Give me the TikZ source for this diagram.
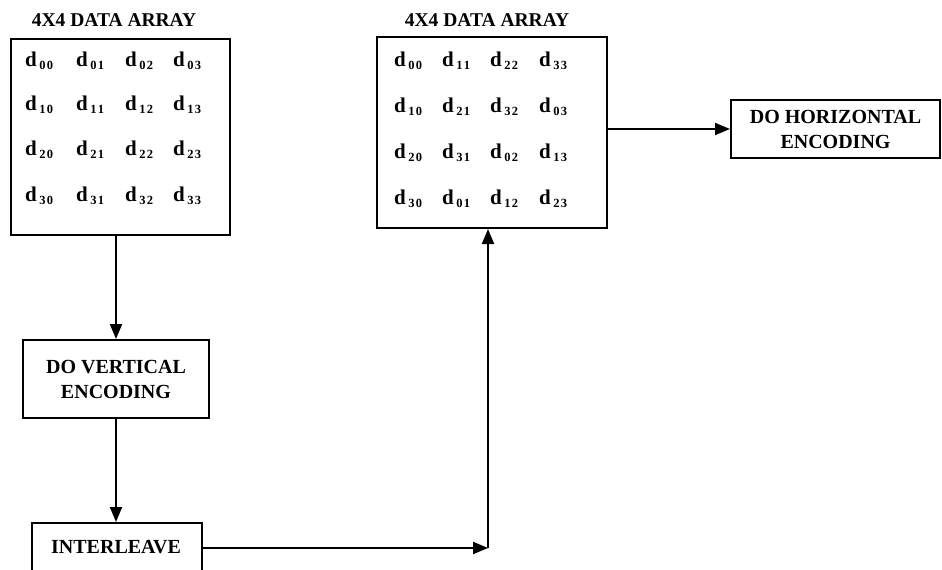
\documentclass[tikz,border=0pt]{standalone}
\usepackage{fontspec}
\setmainfont{Liberation Serif}
\usetikzlibrary{arrows.meta}
\newcommand{\ddent}[2]{d\kern2.5pt\raisebox{-3pt}{\fontsize{12.5}{12}\selectfont #1\kern1.2pt#2}}
\begin{document}
\begin{tikzpicture}[x=1pt,y=-1pt,
  box/.style={draw,line width=2pt,inner sep=0pt,align=center,font=\fontsize{20}{25}\selectfont\bfseries},
  ttl/.style={inner sep=0pt,font=\fontsize{19.5}{22}\selectfont\bfseries},
  ent/.style={inner sep=0pt,anchor=west,font=\fontsize{21}{22}\selectfont\bfseries},
  arr/.style={line width=2pt,-{Triangle[length=15pt,width=12pt]}},
  ln/.style={line width=2pt}]
\useasboundingbox (0,0) rectangle (942,570);
\clip (0,0) rectangle (942,570);
% titles
\node[ttl] (t1) at (114,20) {4X4 DATA ARRAY};
\node[ttl] (t2) at (487,20) {4X4 DATA ARRAY};
% boxes
\node[box,minimum width=219pt,minimum height=196pt] (arr1) at (120.5,137) {};
\node[box,minimum width=230pt,minimum height=191pt] (arr2) at (492,132.5) {};
\node[box,minimum width=209pt,minimum height=58pt] (horz) at (835.5,129) {DO HORIZONTAL\\ENCODING};
\node[box,minimum width=186pt,minimum height=78pt] (vert) at (116,379) {DO VERTICAL\\ENCODING};
\node[box,minimum width=170pt,minimum height=54pt] (inter) at (117,550) {};
\node[inner sep=0pt,font=\fontsize{20}{25}\selectfont\bfseries] (intertxt) at (116,547) {INTERLEAVE};
% left array entries
\foreach \r/\y/\a/\b/\c/\d in {0/61/{0}{0}/{0}{1}/{0}{2}/{0}{3},
                              1/105/{1}{0}/{1}{1}/{1}{2}/{1}{3},
                              2/150/{2}{0}/{2}{1}/{2}{2}/{2}{3},
                              3/196/{3}{0}/{3}{1}/{3}{2}/{3}{3}}{
  \node[ent] (L-\r-0) at (25,\y) {\expandafter\ddent\a};
  \node[ent] (L-\r-1) at (76,\y) {\expandafter\ddent\b};
  \node[ent] (L-\r-2) at (125,\y) {\expandafter\ddent\c};
  \node[ent] (L-\r-3) at (173,\y) {\expandafter\ddent\d};
}
% right array entries
\foreach \r/\y/\a/\b/\c/\d in {0/61/{0}{0}/{1}{1}/{2}{2}/{3}{3},
                              1/107/{1}{0}/{2}{1}/{3}{2}/{0}{3},
                              2/153/{2}{0}/{3}{1}/{0}{2}/{1}{3},
                              3/199/{3}{0}/{0}{1}/{1}{2}/{2}{3}}{
  \node[ent] (R-\r-0) at (394,\y) {\expandafter\ddent\a};
  \node[ent] (R-\r-1) at (442,\y) {\expandafter\ddent\b};
  \node[ent] (R-\r-2) at (490,\y) {\expandafter\ddent\c};
  \node[ent] (R-\r-3) at (539,\y) {\expandafter\ddent\d};
}
% connectors
\coordinate (j) at (488,548);
\draw[arr] (vert.north |- arr1.south) -- (vert.north);
\draw[arr] (vert.south) -- (vert.south |- inter.north);
\draw[arr] (inter.east |- j) -- (j);
\draw[arr] (j) -- (j |- arr2.south);
\draw[arr] (arr2.east |- horz.west) -- (horz.west);
\end{tikzpicture}
\end{document}
